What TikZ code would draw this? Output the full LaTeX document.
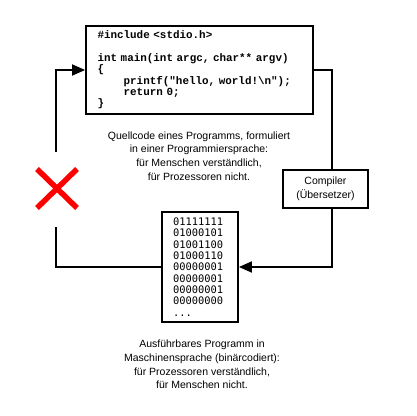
\documentclass[tikz,border=0pt]{standalone}
\usepackage{fontspec}
\setmainfont{Liberation Sans}
\setmonofont{Liberation Mono}
\newfontfamily\binfont{DejaVu Sans Mono}
\usetikzlibrary{arrows.meta,positioning}

\begin{document}
\begin{tikzpicture}[x=1pt,y=-1pt,line width=1.8pt,
    >={Triangle[length=13pt,width=11pt]}]
       \tikzstyle{box}=[draw,fill=white,inner sep=0pt]
       \tikzstyle{caption}=[align=center,font=\fontsize{10.5}{13.7}\selectfont]
       \tikzstyle{cross}=[draw=red,line width=5.5pt]

       \useasboundingbox (0,0) rectangle (416,416);

       \node[box,minimum width=227pt,minimum height=88pt,
             inner xsep=11.5pt,text width=204pt,align=left,
             font=\fontsize{10.9}{11.3}\selectfont\ttfamily\bfseries] (code) at (199.5,70)
             {\#include <stdio.h>\\[11.3pt]
              int main(int argc, char** argv)\\
              \{\\
              \phantom{0000}printf("hello, world!\textbackslash n");\\
              \phantom{0000}return 0;\\
              \}};
       \node[caption] (srctext) at (199,156)
             {Quellcode eines Programms, formuliert\\
              in einer Programmiersprache:\\
              für Menschen verständlich,\\
              für Prozessoren nicht.};
       \node[box,caption,minimum width=85pt,minimum height=38pt] (comp) at (325.5,189)
             {Compiler\\(Übersetzer)};
       \node[box,minimum width=76pt,minimum height=110pt,
             text width=54pt,align=left,
             font=\fontsize{10.4}{11.3}\selectfont\binfont] (bin) at (200,267)
             {01111111\\01000101\\01001100\\01000110\\00000001\\
              00000001\\00000001\\00000000\\...};
       \node[caption] (bintext) at (202,364.5)
             {Ausführbares Programm in\\
              Maschinensprache (binärcodiert):\\
              für Prozessoren verständlich,\\
              für Menschen nicht.};

       \coordinate (lowgap) at (56,227);
       \coordinate (highgap) at (56,152);
       \coordinate (rt) at (332,70);
       \coordinate (rb) at (332,267);

       \draw (bin.west) -| (lowgap);
       \draw[->] (highgap) |- (code.west);
       \draw (code.east) -- (rt) -- (rt |- comp.north);
       \draw[->] (rt |- comp.south) -- (rb) -- (bin.east);

       % red cross on the way back
       \path[cross] (37,169) -- (77,208) (77,169) -- (37,208);
     \end{tikzpicture}
\end{document}
